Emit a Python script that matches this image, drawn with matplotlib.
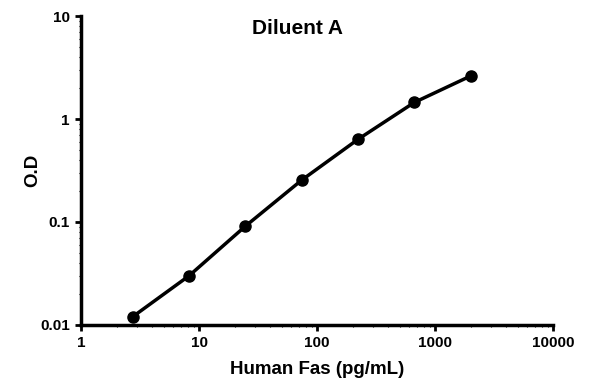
import matplotlib
matplotlib.use('Agg')
import matplotlib.pyplot as plt

plt.rcParams['font.family'] = ['Liberation Sans', 'DejaVu Sans']

# standard curve, 3-fold dilutions
conc = [2.74, 8.23, 24.7, 74.1, 222.2, 666.7, 2000]
od = [0.012, 0.030, 0.091, 0.255, 0.635, 1.45, 2.62]

fig = plt.figure(figsize=(5.96, 3.84), dpi=100)
ax = fig.add_axes([0.136, 0.154, 0.792, 0.804])

ax.plot(conc, od, color='black', lw=2.5, marker='o', ms=8, solid_capstyle='round')
ax.set_xscale('log')
ax.set_yscale('log')
ax.set_xlim(1, 10000)
ax.set_ylim(0.01, 10)

ax.set_xticks([1, 10, 100, 1000, 10000])
ax.set_xticklabels(['1', '10', '100', '1000', '10000'])
ax.set_yticks([0.01, 0.1, 1, 10])
ax.set_yticklabels(['0.01', '0.1', '1', '10'])

for side in ['top', 'right']:
    ax.spines[side].set_visible(False)
for side in ['left', 'bottom']:
    ax.spines[side].set_linewidth(2.5)

ax.tick_params(which='major', length=4, width=2, labelsize=11, pad=4)
ax.tick_params(which='minor', length=1.5, width=0.8)
for lab in ax.get_xticklabels() + ax.get_yticklabels():
    lab.set_fontweight('bold')

ax.set_xlabel('Human Fas (pg/mL)', fontsize=13.5, fontweight='bold', labelpad=8)
ax.set_ylabel('O.D', fontsize=13.5, fontweight='bold')
ax.yaxis.set_label_coords(-0.085, 0.5)
ax.text(0.458, 0.96, 'Diluent A', transform=ax.transAxes, ha='center', va='center',
        fontsize=15, fontweight='bold')

fig.savefig('out.png')
